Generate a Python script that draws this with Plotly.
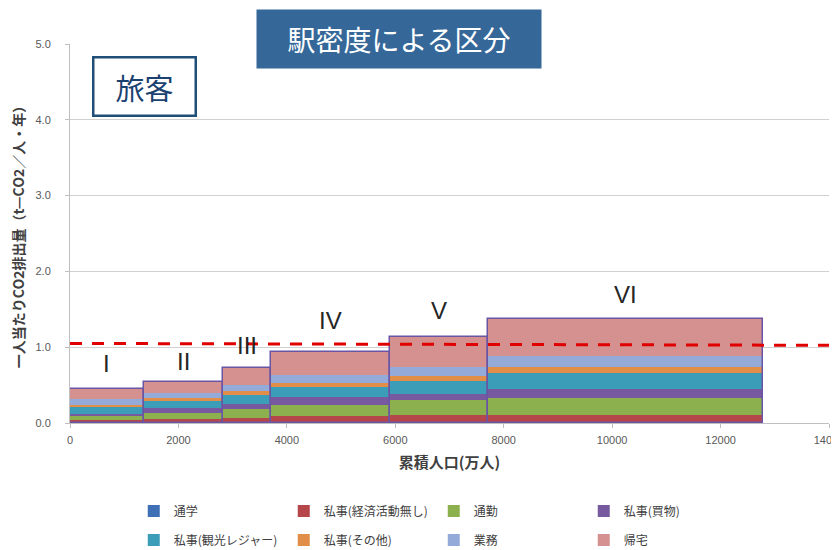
import numpy as np
import plotly.graph_objects as go

# ---- data ----
boundaries = [0, 1360, 2820, 3700, 5910, 7710, 12790]   # cumulative population (万人)
groups = ["I", "II", "III", "IV", "V", "VI"]
series_names = ["通学", "私事(経済活動無し)", "通勤", "私事(買物)",
                "私事(観光レジャー)", "私事(その他)", "業務", "帰宅"]
tsugaku   = [0.01, 0.01, 0.01, 0.01, 0.01, 0.01]
keizai    = [0.03, 0.04, 0.05, 0.08, 0.09, 0.09]
tsukin    = [0.05, 0.085, 0.13, 0.15, 0.21, 0.23]
kaimono   = [0.035, 0.057, 0.066, 0.10, 0.075, 0.12]
kanko     = [0.09, 0.10, 0.11, 0.13, 0.175, 0.21]
sonota    = [0.02, 0.035, 0.05, 0.057, 0.065, 0.08]
gyomu     = [0.08, 0.066, 0.09, 0.105, 0.12, 0.15]
kitaku    = [0.135, 0.15, 0.215, 0.30, 0.385, 0.48]
avg_line_x = [0, 14000]
avg_line_y = [1.05, 1.025]

series_values = [tsugaku, keizai, tsukin, kaimono, kanko, sonota, gyomu, kitaku]
colors = ["#3F6FB5", "#B5464A", "#8DB04E", "#76599E",
          "#3C9DB8", "#E08E48", "#94AAD8", "#D4918F"]
label_yshift = [10, 5, 7, 16, 11, 9]

b = np.array(boundaries, dtype=float)
centers = (b[:-1] + b[1:]) / 2
widths = np.diff(b)
vals = np.array(series_values)
bases = np.vstack([np.zeros(vals.shape[1]), np.cumsum(vals, axis=0)[:-1]])
totals = vals.sum(axis=0)

fig = go.Figure()
for i, name in enumerate(series_names):
    fig.add_trace(go.Bar(
        x=centers, y=vals[i], base=bases[i], width=widths, name=name,
        marker=dict(color=colors[i], line=dict(width=0)),
        legend="legend" if i < 4 else "legend2",
    ))
# outline around each whole bar
fig.add_trace(go.Bar(
    x=centers, y=totals, base=np.zeros_like(totals), width=widths,
    marker=dict(color="rgba(0,0,0,0)", line=dict(color="#6A55A5", width=1.5)),
    showlegend=False, hoverinfo="skip",
))
fig.add_trace(go.Scatter(
    x=avg_line_x, y=avg_line_y, mode="lines", showlegend=False,
    line=dict(color="#E00000", width=3, dash="12px,10px"),
))

for g, cx, t, ys in zip(groups, centers, totals, label_yshift):
    fig.add_annotation(x=cx, y=t, text=g, showarrow=False, yanchor="bottom",
                       yshift=ys, font=dict(family="Liberation Sans", size=24, color="#262626"))

fig.add_annotation(xref="paper", yref="paper", x=0.4335, y=1.0132,
                   text="駅密度による区分", showarrow=False,
                   font=dict(family="Noto Sans CJK JP", size=28, color="white"),
                   bgcolor="#356899", width=280, height=54, borderpad=2,
                   xanchor="center", yanchor="middle")
fig.add_annotation(xref="paper", yref="paper", x=0.0988, y=0.889,
                   text="旅客", showarrow=False,
                   font=dict(family="Noto Sans CJK JP", size=29, color="#1B4170"),
                   bgcolor="white", bordercolor="#1F4E79", borderwidth=2.5,
                   width=100, height=56, borderpad=0,
                   xanchor="center", yanchor="middle")

# page has an 8px body margin: figure is drawn at (8, 8) in the window
W, H = 831, 542
legend_common = dict(orientation="h", entrywidth=105, entrywidthmode="pixels",
                     font=dict(family="Noto Sans CJK JP", size=12, color="#404040"),
                     itemwidth=30, xanchor="left", yanchor="middle",
                     xref="paper", yref="container",
                     bgcolor="rgba(0,0,0,0)", tracegroupgap=0)
fig.update_layout(
    width=W, height=H,
    margin=dict(l=62, r=10, t=36, b=127),
    paper_bgcolor="white", plot_bgcolor="white",
    barmode="overlay", bargap=0,
    legend=dict(x=0.084, y=(H - (511 - 8)) / H, **legend_common),
    legend2=dict(x=0.084, y=(H - (540 - 8)) / H, **legend_common),
    xaxis=dict(range=[0, 14000], dtick=2000, tickformat="d", showgrid=False,
               zeroline=False, automargin=False, ticklabeloverflow="allow",
               showline=True, linecolor="#BFBFBF", ticks="outside", ticklen=4,
               tickcolor="#BFBFBF", ticklabelstandoff=3,
               tickfont=dict(family="Liberation Sans", size=11, color="#595959"),
               title=dict(text="<b>累積人口(万人)</b>", standoff=12,
                          font=dict(family="Noto Sans CJK JP", size=15, color="#404040"))),
    yaxis=dict(range=[0, 5], dtick=1, tickformat=".1f", showgrid=True,
               gridcolor="#D0D0D0", zeroline=False, automargin=False,
               showline=True, linecolor="#BFBFBF", ticks="outside", ticklen=4,
               tickcolor="#BFBFBF", ticklabelstandoff=12,
               tickfont=dict(family="Liberation Sans", size=11, color="#595959"),
               title=dict(text="<b>一人当たりCO2排出量（t—CO2／人・年）</b>", standoff=10,
                          font=dict(family="Noto Sans CJK JP", size=14, color="#404040"))),
)

fig.write_html("out.html")
